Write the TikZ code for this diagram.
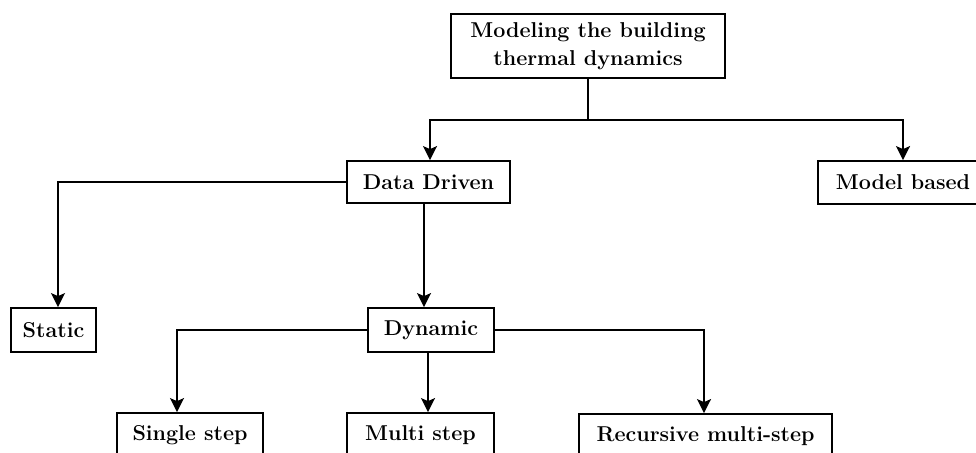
\documentclass[tikz,border=0pt]{standalone}
\usepackage{fontspec}
\usetikzlibrary{arrows.meta,calc}
\begin{document}
\begin{tikzpicture}[x=1pt,y=-1pt,
  box/.style={draw, line width=1.8pt, inner sep=0pt, align=center,
    font=\fontsize{21.5}{28}\selectfont\bfseries},
  conn/.style={line width=1.8pt, -{Stealth[length=14pt,width=14pt,inset=3pt]}},
  stem/.style={line width=1.8pt}]
\useasboundingbox (0,0) rectangle (976,452);
\clip (0,0) rectangle (976,452);
\fill[white] (0,0) rectangle (976,452);
\node[box, minimum width=274pt, minimum height=64pt] (top) at (588,46) {Modeling the building\\thermal dynamics};
\node[box, minimum width=163pt, minimum height=42pt] (dd) at (428.5,182) {Data Driven};
\node[box, minimum width=170pt, minimum height=43pt] (mb) at (903,182.5) {Model based};
\node[box, minimum width=85pt, minimum height=44pt] (st) at (53.5,330) {Static};
\node[box, minimum width=126pt, minimum height=44pt] (dyn) at (431,330) {Dynamic};
\node[box, minimum width=146pt, minimum height=44pt] (ss) at (190,435) {Single step};
\node[box, minimum width=147pt, minimum height=44pt] (ms) at (420.5,435) {Multi step};
\node[box, minimum width=253pt, minimum height=44pt] (rm) at (705.5,436) {Recursive multi-step};
\coordinate (split) at ($(top.south)+(0,41)$);
\draw[stem] (top.south) -- (split);
\draw[conn] (split) -| ([xshift=1.5pt]dd.north);
\draw[conn] (split) -| (mb.north);
\draw[conn] (dd.west) -| ([xshift=4.5pt]st.north);
\draw[conn] ([xshift=-4.5pt]dd.south) -- ([xshift=-4.5pt]dd.south |- dyn.north);
\draw[conn] (dyn.west) -| ([xshift=-13pt]ss.north);
\draw[conn] ([xshift=-3pt]dyn.south) -- ([xshift=-3pt]dyn.south |- ms.north);
\draw[conn] (dyn.east) -| ([xshift=-1.5pt]rm.north);
\end{tikzpicture}
\end{document}
